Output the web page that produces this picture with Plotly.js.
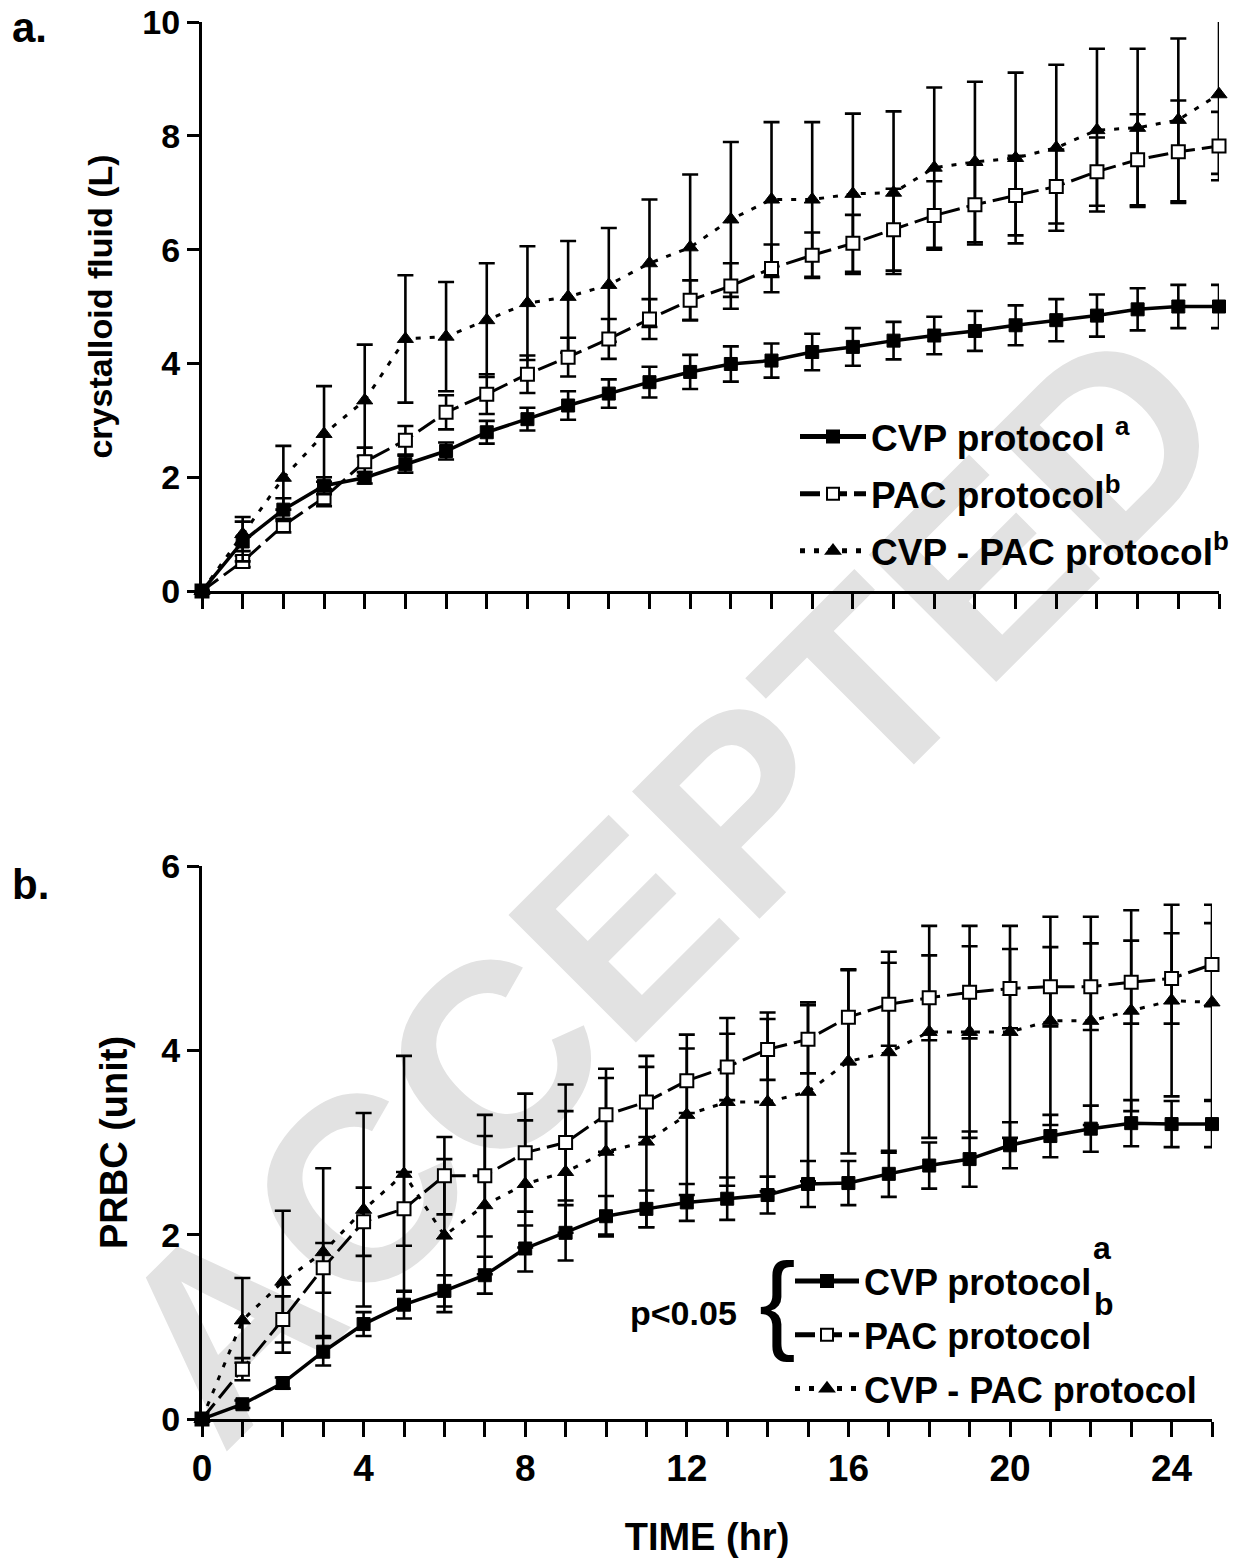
<!DOCTYPE html>
<html>
<head>
<meta charset="utf-8">
<script src="https://cdn.plot.ly/plotly-3.0.1.min.js"></script>
<style>html,body{margin:0;padding:0;background:#fff;}#chart{width:1253px;height:1566px;}</style>
</head>
<body>
<div id="chart"></div>
<script>
// ---------- data ----------
const hours = [0,1,2,3,4,5,6,7,8,9,10,11,12,13,14,15,16,17,18,19,20,21,22,23,24,25];

// panel a: crystalloid fluid (L)
const cvpA    = [0,0.87,1.43,1.85,1.99,2.23,2.46,2.79,3.02,3.26,3.47,3.67,3.85,3.99,4.05,4.20,4.29,4.40,4.49,4.57,4.67,4.76,4.84,4.95,5.00,5.00];
const cvpAerr = [0,0.35,0.20,0.15,0.10,0.15,0.15,0.20,0.20,0.25,0.25,0.27,0.30,0.31,0.30,0.32,0.33,0.33,0.33,0.35,0.35,0.37,0.37,0.37,0.38,0.38];
const pacA    = [0,0.52,1.15,1.64,2.27,2.65,3.14,3.46,3.81,4.11,4.43,4.78,5.11,5.36,5.67,5.90,6.11,6.35,6.60,6.79,6.95,7.11,7.37,7.58,7.72,7.82];
const pacAerr = [0,0.10,0.12,0.15,0.25,0.25,0.30,0.35,0.33,0.34,0.35,0.35,0.35,0.40,0.42,0.40,0.50,0.72,0.60,0.70,0.70,0.65,0.60,0.80,0.90,0.60];
const triA    = [0,1.00,1.99,2.76,3.35,4.43,4.47,4.76,5.06,5.17,5.38,5.76,6.04,6.53,6.88,6.88,6.98,7.00,7.44,7.54,7.61,7.79,8.10,8.14,8.28,8.73];
const triAerr = [0,0.30,0.56,0.84,0.98,1.12,0.96,1.00,1.00,0.98,1.00,1.12,1.28,1.36,1.36,1.36,1.41,1.43,1.41,1.41,1.50,1.46,1.43,1.39,1.43,1.40];

// panel b: PRBC (unit)
const cvpB    = [0,0.16,0.39,0.73,1.03,1.24,1.39,1.56,1.85,2.02,2.20,2.28,2.35,2.39,2.43,2.55,2.56,2.66,2.75,2.82,2.97,3.07,3.15,3.21,3.20,3.20];
const cvpBerr = [0,0.04,0.06,0.15,0.13,0.15,0.17,0.20,0.25,0.30,0.22,0.20,0.20,0.23,0.20,0.25,0.24,0.25,0.25,0.30,0.25,0.23,0.25,0.25,0.25,0.25];
const pacB    = [0,0.54,1.08,1.64,2.14,2.28,2.64,2.64,2.89,3.00,3.30,3.44,3.67,3.82,4.01,4.12,4.36,4.50,4.57,4.63,4.67,4.69,4.69,4.74,4.78,4.93];
const pacBerr = [0,0.12,0.25,0.27,0.37,0.40,0.42,0.66,0.64,0.63,0.40,0.38,0.35,0.36,0.33,0.37,0.51,0.45,0.46,0.50,0.43,0.43,0.47,0.45,0.49,0.45];
const triB    = [0,1.07,1.49,1.81,2.27,2.66,1.99,2.32,2.55,2.68,2.90,3.01,3.30,3.44,3.44,3.55,3.88,3.98,4.20,4.20,4.20,4.32,4.32,4.43,4.54,4.52];
const triBerr = [0,0.46,0.77,0.91,1.05,1.28,0.83,0.75,0.69,0.66,0.90,0.93,0.87,0.91,0.97,0.97,1.00,1.09,1.15,1.15,1.15,1.13,1.13,1.09,1.04,1.06];

const namesA = ['CVP protocol <sup>a</sup>','PAC protocol<sup>b</sup>','CVP - PAC protocol<sup>b</sup>'];
const namesB = ['CVP protocol','PAC protocol','CVP - PAC protocol'];
const supB = ['a','b'];
const yTitleA = 'crystalloid fluid (L)';
const yTitleB = 'PRBC (unit)';
const xTitle = 'TIME (hr)';

// ---------- styles ----------
const F = '"Liberation Sans", Arial, sans-serif';
function eb(arr){ return {type:'data', array:arr, visible:true, color:'#000', thickness:2.6, width:8}; }
const styles = {
  cvp: {line:{color:'#000', width:3.5, dash:'solid'}, marker:{symbol:'square', size:13, color:'#000', line:{color:'#000', width:1}}},
  pac: {line:{color:'#000', width:3, dash:'20px,7px'}, marker:{symbol:'square', size:13, color:'#fff', line:{color:'#000', width:2}}},
  tri: {line:{color:'#000', width:3, dash:'5px,9px'}, marker:{symbol:'triangle-up', size:14, color:'#000', line:{color:'#000', width:1}}}
};
function tr(key, x, y, err, name, xa, ya, leg, rank){
  return Object.assign({type:'scatter', mode:'lines+markers', x:x, y:y, error_y:eb(err), name:name,
    xaxis:xa, yaxis:ya, legend:leg, legendgroup:leg+key, legendrank:rank, cliponaxis:false}, styles[key]);
}
const data = [
  tr('tri', hours, triA, triAerr, namesA[2], 'x', 'y', 'legend', 3),
  tr('pac', hours, pacA, pacAerr, namesA[1], 'x', 'y', 'legend', 2),
  tr('cvp', hours, cvpA, cvpAerr, namesA[0], 'x', 'y', 'legend', 1),
  tr('tri', hours, triB, triBerr, namesB[2], 'x2', 'y2', 'legend2', 3),
  tr('pac', hours, pacB, pacBerr, namesB[1], 'x2', 'y2', 'legend2', 2),
  tr('cvp', hours, cvpB, cvpBerr, namesB[0], 'x2', 'y2', 'legend2', 1)
];

// pixel -> paper helpers (plot area: l=202, t=22, w=1017, h=1397)
const L=202, T=22, W=1017, H=1397;
const px = v => (v - L) / W;
const py = v => (T + H - v) / H;

const axCommon = {showline:true, linecolor:'#000', linewidth:3, ticks:'outside', tickcolor:'#000', tickwidth:3,
  showgrid:false, zeroline:false, fixedrange:true};

const layout = {
  width:1253, height:1566,
  margin:{l:L, r:1253-L-W, t:T, b:1566-T-H},
  paper_bgcolor:'#fff', plot_bgcolor:'rgba(0,0,0,0)',
  showlegend:true,
  font:{family:F, color:'#000', size:30, weight:'bold'},
  xaxis: Object.assign({}, axCommon, {domain:[0,1], range:[0,25], anchor:'y', dtick:1, tick0:0, ticklen:15, showticklabels:false}),
  yaxis: Object.assign({}, axCommon, {domain:[py(591),1], range:[0,10], anchor:'x', dtick:2, tick0:0, ticklen:12,
    tickfont:{family:F, size:34, weight:'bold'}, title:{text:yTitleA, font:{family:F, size:34, weight:'bold'}, standoff:20}}),
  xaxis2: Object.assign({}, axCommon, {domain:[0,px(1212)], range:[0,25], anchor:'y2', dtick:4, tick0:0, ticklen:15,
    minor:{dtick:1, tick0:0, ticks:'outside', ticklen:15, tickwidth:3, tickcolor:'#000', showgrid:false},
    tickfont:{family:F, size:37, weight:'bold'}, title:{text:xTitle, font:{family:F, size:38, weight:'bold'}, standoff:35}}),
  yaxis2: Object.assign({}, axCommon, {domain:[0,py(866)], range:[0,6], anchor:'x2', dtick:2, tick0:0, ticklen:12,
    tickfont:{family:F, size:34, weight:'bold'}, title:{text:yTitleB, font:{family:F, size:38, weight:'bold'}, standoff:22}}),
  legend:{x:px(795), y:py(406), xanchor:'left', yanchor:'top', bgcolor:'rgba(0,0,0,0)', borderwidth:0,
    font:{family:F, size:37, weight:'bold', color:'#000'}, traceorder:'grouped', tracegroupgap:6, itemwidth:66, itemsizing:'constant'},
  legend2:{x:px(790), y:py(1251), xanchor:'left', yanchor:'top', bgcolor:'rgba(0,0,0,0)', borderwidth:0,
    font:{family:F, size:36, weight:'bold', color:'#000'}, traceorder:'grouped', tracegroupgap:4, itemwidth:64, itemsizing:'constant'},
  annotations:[
    {text:'a.', xref:'paper', yref:'paper', x:px(10), y:py(28), xanchor:'left', yanchor:'middle', showarrow:false, font:{family:F, size:42, weight:'bold'}},
    {text:'b.', xref:'paper', yref:'paper', x:px(10), y:py(884), xanchor:'left', yanchor:'middle', showarrow:false, font:{family:F, size:42, weight:'bold'}},
    {text:'p<0.05', xref:'paper', yref:'paper', x:px(683), y:py(1313), xanchor:'center', yanchor:'middle', showarrow:false, font:{family:F, size:34, weight:'bold'}},
    {text:'{', xref:'paper', yref:'paper', x:px(777), y:py(1300), xanchor:'center', yanchor:'middle', showarrow:false, font:{family:F, size:110, weight:'normal'}},
    {text:supB[0], xref:'paper', yref:'paper', x:px(1102), y:py(1248), xanchor:'center', yanchor:'middle', showarrow:false, font:{family:F, size:32, weight:'bold'}},
    {text:supB[1], xref:'paper', yref:'paper', x:px(1104), y:py(1304), xanchor:'center', yanchor:'middle', showarrow:false, font:{family:F, size:32, weight:'bold'}}
  ],
  shapes:[
    {type:'rect', xref:'paper', yref:'paper', x0:px(50), x1:px(1250), y0:py(1465), y1:py(265), layer:'below',
     line:{width:0, color:'rgba(0,0,0,0)'}, fillcolor:'rgba(0,0,0,0)',
     label:{text:'ACCEPTED', textangle:-45, textposition:'middle center', font:{family:F, size:262, color:'#e2e2e2', weight:'bold'}}}
  ]
};

Plotly.newPlot('chart', data, layout, {displayModeBar:false, staticPlot:true});
</script>
</body>
</html>
